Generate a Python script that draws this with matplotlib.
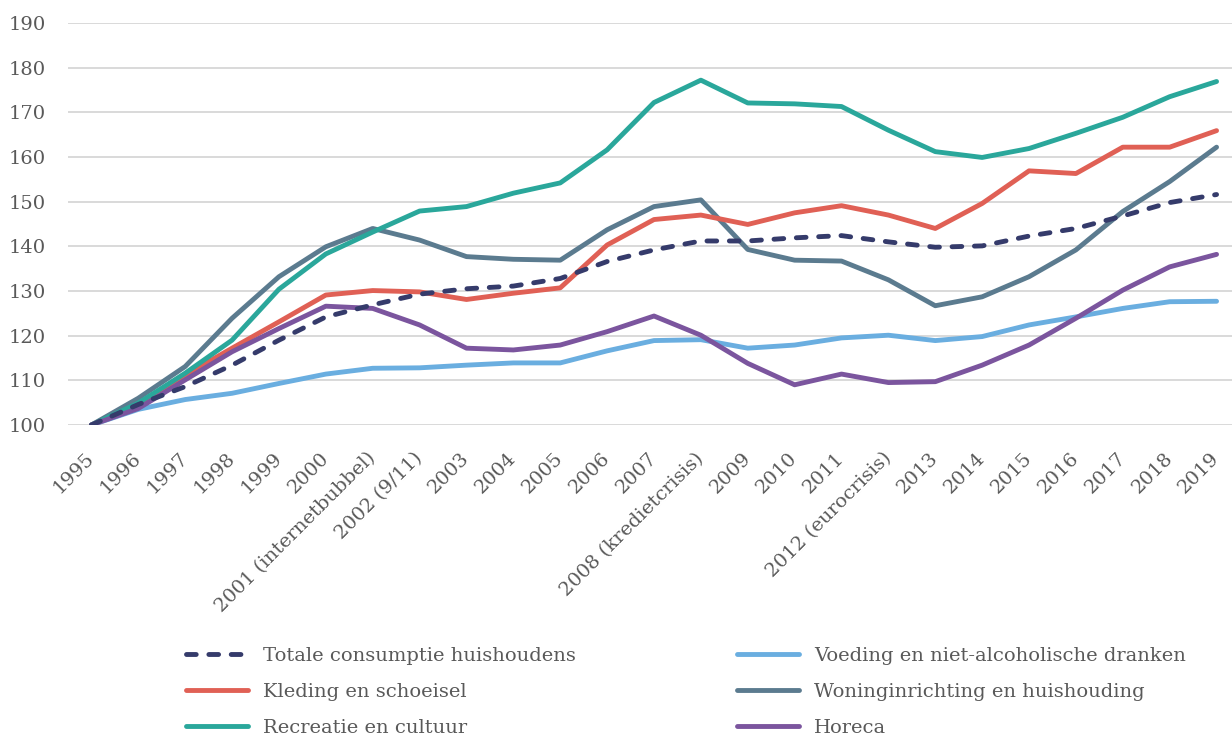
import matplotlib
matplotlib.use("Agg")
import matplotlib.pyplot as plt
from matplotlib.lines import Line2D

# ── Data ──────────────────────────────────────────────────────────────────────
years = ["1995", "1996", "1997", "1998", "1999", "2000", "2001 (internetbubbel)",
         "2002 (9/11)", "2003", "2004", "2005", "2006", "2007", "2008 (kredietcrisis)",
         "2009", "2010", "2011", "2012 (eurocrisis)", "2013", "2014", "2015", "2016",
         "2017", "2018", "2019"]

totaal = [100, 104.6, 108.6, 113.4, 119.0, 124.2, 126.9, 129.3, 130.5, 131.1, 132.8,
          136.6, 139.2, 141.2, 141.2, 141.9, 142.4, 141.0, 139.8, 140.1, 142.3, 144.0,
          146.8, 149.8, 151.6]
voeding = [100, 103.5, 105.7, 107.1, 109.3, 111.4, 112.7, 112.8, 113.4, 113.9, 113.9,
           116.6, 118.9, 119.1, 117.2, 117.9, 119.5, 120.1, 118.9, 119.8, 122.4, 124.2,
           126.1, 127.6, 127.7]
kleding = [100, 104.5, 111.2, 117.2, 123.1, 129.1, 130.1, 129.8, 128.1, 129.5, 130.7,
           140.3, 146.0, 147.0, 144.9, 147.5, 149.1, 147.0, 144.0, 149.6, 156.9, 156.3,
           162.2, 162.2, 165.9]
woning = [100, 106.0, 113.1, 123.9, 133.2, 139.9, 144.0, 141.4, 137.7, 137.1, 136.9,
          143.7, 148.9, 150.4, 139.3, 136.9, 136.7, 132.5, 126.7, 128.7, 133.2, 139.2,
          147.8, 154.5, 162.2]
recreatie = [100, 104.9, 111.6, 119.0, 130.4, 138.3, 143.2, 147.9, 148.9, 151.9, 154.2,
             161.6, 172.2, 177.2, 172.1, 171.9, 171.3, 166.0, 161.2, 159.9, 161.9, 165.3,
             168.9, 173.5, 176.9]
horeca = [100, 103.7, 110.1, 116.4, 121.6, 126.6, 126.1, 122.4, 117.2, 116.8, 117.9,
          120.9, 124.4, 120.1, 113.8, 109.0, 111.4, 109.5, 109.7, 113.4, 117.9, 123.9,
          130.2, 135.4, 138.2]

labels = ["Totale consumptie huishoudens", "Voeding en niet-alcoholische dranken",
          "Kleding en schoeisel", "Woninginrichting en huishouding",
          "Recreatie en cultuur", "Horeca"]

# ── Colour palette ────────────────────────────────────────────────────────────
COLORS = {
    "totaal": "#353b6b",
    "voeding": "#6aaee0",
    "kleding": "#e06055",
    "woning": "#5b7b8f",
    "recreatie": "#2aa79b",
    "horeca": "#7b559e",
}
TEXT = "#595959"
DASH = (2.0, 2.6)

plt.rcParams["font.family"] = ["DejaVu Serif"]

fig = plt.figure(figsize=(12.32, 7.42), dpi=100)
ax = fig.add_axes([68 / 1232, 1 - 425 / 742, (1240 - 68) / 1232, (425 - 23) / 742])

x = list(range(len(years)))
lw = 3.5

# draw order: back to front roughly as in the reference
for k, ys in [("voeding", voeding), ("woning", woning), ("kleding", kleding),
              ("recreatie", recreatie), ("horeca", horeca)]:
    ax.plot(x, ys, color=COLORS[k], lw=lw, solid_capstyle="round",
            solid_joinstyle="round")
ax.plot(x, totaal, color=COLORS["totaal"], lw=lw, dashes=DASH,
        dash_capstyle="round")

ax.set_xlim(-0.5, len(years) - 0.5)
ax.set_ylim(100, 190)
ax.set_yticks(range(100, 191, 10))
ax.grid(axis="y", color="#d9d9d9", lw=1.4)
ax.set_axisbelow(True)
for s in ax.spines.values():
    s.set_visible(False)

ax.set_xticks(x)
ax.set_xticklabels(years, rotation=45, ha="right", va="center",
                   rotation_mode="anchor")
ax.tick_params(axis="both", length=0, labelsize=14, labelcolor=TEXT)
ax.tick_params(axis="y", pad=16)
ax.tick_params(axis="x", pad=22)

# ── Legend ────────────────────────────────────────────────────────────────────
h = {"totaal": Line2D([], [], color=COLORS["totaal"], lw=lw, dashes=DASH,
                      dash_capstyle="round")}
for k in ["voeding", "kleding", "woning", "recreatie", "horeca"]:
    h[k] = Line2D([], [], color=COLORS[k], lw=lw, solid_capstyle="round")

keys = ["totaal", "voeding", "kleding", "woning", "recreatie", "horeca"]
lab = dict(zip(keys, labels))
order = ["totaal", "kleding", "recreatie", "voeding", "woning", "horeca"]
fig.legend([h[k] for k in order], [lab[k] for k in order],
           loc="upper left", bbox_to_anchor=(186 / 1232, 1 - 647 / 742),
           ncol=2, frameon=False, fontsize=14, labelcolor=TEXT,
           handlelength=3.2, handletextpad=0.75, columnspacing=8.3,
           labelspacing=0.92, borderpad=0, borderaxespad=0)

fig.savefig("out.png", dpi=100)
